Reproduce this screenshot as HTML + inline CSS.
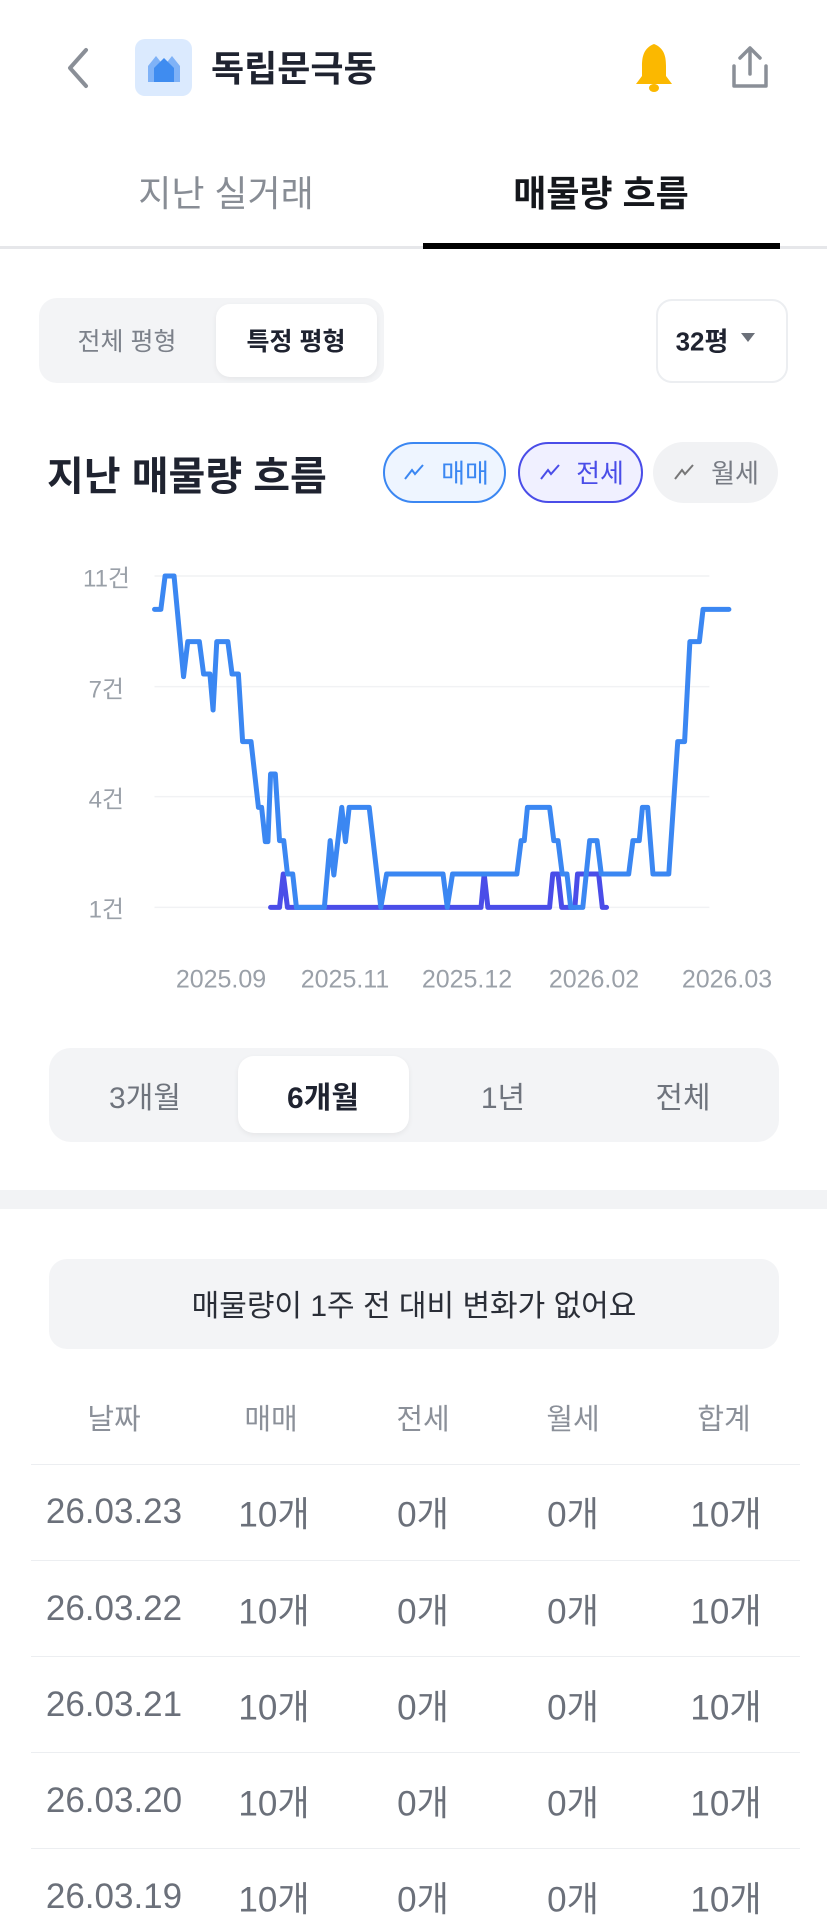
<!DOCTYPE html>
<html><head><meta charset="utf-8"><style>
*{margin:0;padding:0;box-sizing:border-box}
body{width:827px;height:1924px;background:#fff;position:relative;overflow:hidden;font-family:"Liberation Sans","Noto Sans CJK KR",sans-serif}
.a{position:absolute;white-space:nowrap}
.c{position:absolute;white-space:nowrap;transform:translate(-50%,-50%)}
.r{position:absolute;white-space:nowrap;transform:translate(-100%,-50%)}
.l{position:absolute;white-space:nowrap;transform:translate(0,-50%)}
</style></head><body>
<!-- header -->
<svg class="a" style="left:62px;top:46px" width="30" height="44"><polyline points="24,4 8,22 24,40" fill="none" stroke="#8a8f97" stroke-width="4" stroke-linecap="round" stroke-linejoin="round"/></svg>
<div class="a" style="left:135px;top:39px;width:57px;height:57px;background:#dbeafe;border-radius:10px"></div>
<svg class="a" style="left:146px;top:52px" width="36" height="32"><path d="M2,30 V14 L10,4 L18,14 L26,4 L34,14 V30 Z" fill="#7fb2f7"/><path d="M8,30 V16 L18,6 L28,16 V30 Z" fill="#3f8cf0"/></svg>
<div class="l" style="left:211px;top:66px;font-size:36px;font-weight:bold;color:#1f2330">독립문극동</div>
<svg class="a" style="left:632px;top:42px" width="44" height="52"><path d="M22,2 C12,6 10,14 10,24 L10,34 L4,42 H40 L34,34 L34,24 C34,14 32,6 22,2Z" fill="#fbb800"/><ellipse cx="22" cy="46" rx="5" ry="4" fill="#fbb800"/></svg>
<svg class="a" style="left:728px;top:44px" width="44" height="48"><path d="M22,4 V30 M12,14 L22,4 L32,14" fill="none" stroke="#8a8f97" stroke-width="3.5" stroke-linecap="round" stroke-linejoin="round"/><path d="M6,22 V42 H38 V22" fill="none" stroke="#8a8f97" stroke-width="3.5" stroke-linecap="round" stroke-linejoin="round"/></svg>
<!-- tabs -->
<div class="c" style="left:226px;top:191px;font-size:36px;color:#888d95">지난 실거래</div>
<div class="c" style="left:601px;top:191px;font-size:36px;font-weight:bold;color:#15171c">매물량 흐름</div>
<div class="a" style="left:0;top:246px;width:827px;height:3px;background:#e6e7ea"></div>
<div class="a" style="left:423px;top:243px;width:357px;height:6px;background:#000"></div>
<!-- segmented -->
<div class="a" style="left:39px;top:298px;width:345px;height:85px;background:#f3f4f6;border-radius:18px"></div>
<div class="a" style="left:216px;top:304px;width:161px;height:73px;background:#fff;border-radius:14px;box-shadow:0 2px 6px rgba(0,0,0,.06)"></div>
<div class="c" style="left:127px;top:340px;font-size:25px;color:#7c818a">전체 평형</div>
<div class="c" style="left:296px;top:340px;font-size:25px;font-weight:bold;color:#1f2330">특정 평형</div>
<div class="a" style="left:656px;top:299px;width:132px;height:84px;border:2px solid #eceef1;border-radius:16px"></div>
<div class="c" style="left:702px;top:340px;font-size:26px;font-weight:bold;color:#1f2330">32평</div>
<svg class="a" style="left:740px;top:332px" width="16" height="12"><path d="M1,1 H15 L8,10Z" fill="#6b7079"/></svg>
<!-- title + chips -->
<div class="l" style="left:47px;top:473px;font-size:40px;font-weight:bold;color:#1f2330">지난 매물량 흐름</div>
<div class="a" style="left:383px;top:442px;width:123px;height:61px;border:2px solid #3b87f2;border-radius:31px;background:#eef5ff"></div>
<div class="a" style="left:518px;top:442px;width:125px;height:61px;border:2px solid #4a4de8;border-radius:31px;background:#f0f0ff"></div>
<div class="a" style="left:653px;top:442px;width:125px;height:61px;border-radius:31px;background:#f1f2f4"></div>
<svg class="a" style="left:403px;top:462px" width="22" height="20"><polyline points="2,17 9,8 12,12 20,3" fill="none" stroke="#3b87f2" stroke-width="2"/></svg>
<svg class="a" style="left:539px;top:462px" width="22" height="20"><polyline points="2,17 9,8 12,12 20,3" fill="none" stroke="#4a4de8" stroke-width="2"/></svg>
<svg class="a" style="left:673px;top:462px" width="22" height="20"><polyline points="2,17 9,8 12,12 20,3" fill="none" stroke="#777" stroke-width="2"/></svg>
<div class="c" style="left:465px;top:472px;font-size:26px;color:#3b87f2">매매</div>
<div class="c" style="left:600px;top:472px;font-size:26px;color:#4a4de8">전세</div>
<div class="c" style="left:735px;top:472px;font-size:26px;color:#777b83">월세</div>
<!-- chart -->
<svg class="a" style="left:0;top:500px" width="827" height="520" viewBox="0 0 1568 1560" preserveAspectRatio="none">
<g stroke="#f1f2f4" stroke-width="1.5">
<line x1="293" y1="228" x2="1345" y2="228" vector-effect="non-scaling-stroke"/>
<line x1="293" y1="560" x2="1345" y2="560" vector-effect="non-scaling-stroke"/>
<line x1="293" y1="890" x2="1345" y2="890" vector-effect="non-scaling-stroke"/>
<line x1="293" y1="1222" x2="1345" y2="1222" vector-effect="non-scaling-stroke"/>
</g>
<path d="M513,1222 L530,1222 L537,1122 L545,1222 L912,1222 L918,1122 L925,1222 L1042,1222 L1048,1122 L1058,1122 L1065,1222 L1090,1222 L1095,1122 L1135,1122 L1142,1222 L1150,1222" fill="none" stroke="#4a4de8" stroke-width="5" stroke-linejoin="round" stroke-linecap="round" vector-effect="non-scaling-stroke"/>
<path d="M293,328 L305,328 L313,228 L330,228 L348,530 L356,425 L378,425 L386,522 L398,522 L404,630 L411,425 L432,425 L440,522 L452,522 L460,725 L476,725 L490,922 L496,922 L503,1025 L508,1025 L513,822 L522,822 L530,1022 L538,1022 L545,1122 L555,1122 L562,1222 L615,1222 L626,1022 L633,1125 L648,922 L655,1025 L662,922 L700,922 L722,1222 L733,1122 L840,1122 L848,1222 L858,1122 L980,1122 L988,1022 L994,1022 L1000,922 L1042,922 L1050,1022 L1058,1022 L1066,1122 L1075,1122 L1082,1222 L1105,1222 L1118,1022 L1132,1022 L1140,1122 L1192,1122 L1200,1022 L1212,1022 L1218,922 L1228,922 L1238,1122 L1268,1122 L1285,725 L1298,725 L1308,425 L1326,425 L1333,328 L1382,328" fill="none" stroke="#3b87f2" stroke-width="5" stroke-linejoin="round" stroke-linecap="round" vector-effect="non-scaling-stroke"/>
</svg>
<div class="r" style="left:130px;top:576px;font-size:24px;color:#9aa0a8">11건</div>
<div class="r" style="left:124px;top:687px;font-size:24px;color:#9aa0a8">7건</div>
<div class="r" style="left:124px;top:797px;font-size:24px;color:#9aa0a8">4건</div>
<div class="r" style="left:124px;top:907px;font-size:24px;color:#9aa0a8">1건</div>
<div class="c" style="left:221px;top:980px;font-size:25px;color:#9aa0a8">2025.09</div>
<div class="c" style="left:345px;top:980px;font-size:25px;color:#9aa0a8">2025.11</div>
<div class="c" style="left:467px;top:980px;font-size:25px;color:#9aa0a8">2025.12</div>
<div class="c" style="left:594px;top:980px;font-size:25px;color:#9aa0a8">2026.02</div>
<div class="c" style="left:727px;top:980px;font-size:25px;color:#9aa0a8">2026.03</div>
<!-- period -->
<div class="a" style="left:49px;top:1048px;width:730px;height:94px;background:#f3f4f6;border-radius:22px"></div>
<div class="a" style="left:238px;top:1056px;width:171px;height:77px;background:#fff;border-radius:16px;box-shadow:0 2px 6px rgba(0,0,0,.06)"></div>
<div class="c" style="left:145px;top:1095px;font-size:30px;color:#6f747d">3개월</div>
<div class="c" style="left:323px;top:1095px;font-size:30px;font-weight:bold;color:#1f2330">6개월</div>
<div class="c" style="left:503px;top:1095px;font-size:30px;color:#6f747d">1년</div>
<div class="c" style="left:683px;top:1095px;font-size:30px;color:#6f747d">전체</div>
<div class="a" style="left:0;top:1190px;width:827px;height:19px;background:#f2f3f5"></div>
<!-- notice -->
<div class="a" style="left:49px;top:1259px;width:730px;height:90px;background:#f3f4f6;border-radius:18px"></div>
<div class="c" style="left:414px;top:1303px;font-size:30px;color:#2a2e37">매물량이 1주 전 대비 변화가 없어요</div>
<!-- table -->
<div class="c" style="left:114px;top:1417px;font-size:29px;color:#8b9099">날짜</div>
<div class="c" style="left:271px;top:1417px;font-size:29px;color:#8b9099">매매</div>
<div class="c" style="left:423px;top:1417px;font-size:29px;color:#8b9099">전세</div>
<div class="c" style="left:573px;top:1417px;font-size:29px;color:#8b9099">월세</div>
<div class="c" style="left:724px;top:1417px;font-size:29px;color:#8b9099">합계</div>
<div class="a" style="left:31px;top:1464px;width:769px;height:1px;background:#eceef1"></div>
<div class="a" style="left:31px;top:1560px;width:769px;height:1px;background:#eceef1"></div>
<div class="a" style="left:31px;top:1656px;width:769px;height:1px;background:#eceef1"></div>
<div class="a" style="left:31px;top:1752px;width:769px;height:1px;background:#eceef1"></div>
<div class="a" style="left:31px;top:1848px;width:769px;height:1px;background:#eceef1"></div>
<div style="position:absolute;left:0;top:0;font-size:35px;color:#6b707a">
<div class="c" style="left:114px;top:1512px">26.03.23</div><div class="c" style="left:274px;top:1512px">10개</div><div class="c" style="left:423px;top:1512px">0개</div><div class="c" style="left:573px;top:1512px">0개</div><div class="c" style="left:726px;top:1512px">10개</div>
<div class="c" style="left:114px;top:1609px">26.03.22</div><div class="c" style="left:274px;top:1609px">10개</div><div class="c" style="left:423px;top:1609px">0개</div><div class="c" style="left:573px;top:1609px">0개</div><div class="c" style="left:726px;top:1609px">10개</div>
<div class="c" style="left:114px;top:1705px">26.03.21</div><div class="c" style="left:274px;top:1705px">10개</div><div class="c" style="left:423px;top:1705px">0개</div><div class="c" style="left:573px;top:1705px">0개</div><div class="c" style="left:726px;top:1705px">10개</div>
<div class="c" style="left:114px;top:1801px">26.03.20</div><div class="c" style="left:274px;top:1801px">10개</div><div class="c" style="left:423px;top:1801px">0개</div><div class="c" style="left:573px;top:1801px">0개</div><div class="c" style="left:726px;top:1801px">10개</div>
<div class="c" style="left:114px;top:1897px">26.03.19</div><div class="c" style="left:274px;top:1897px">10개</div><div class="c" style="left:423px;top:1897px">0개</div><div class="c" style="left:573px;top:1897px">0개</div><div class="c" style="left:726px;top:1897px">10개</div>
</div>
</body></html>
